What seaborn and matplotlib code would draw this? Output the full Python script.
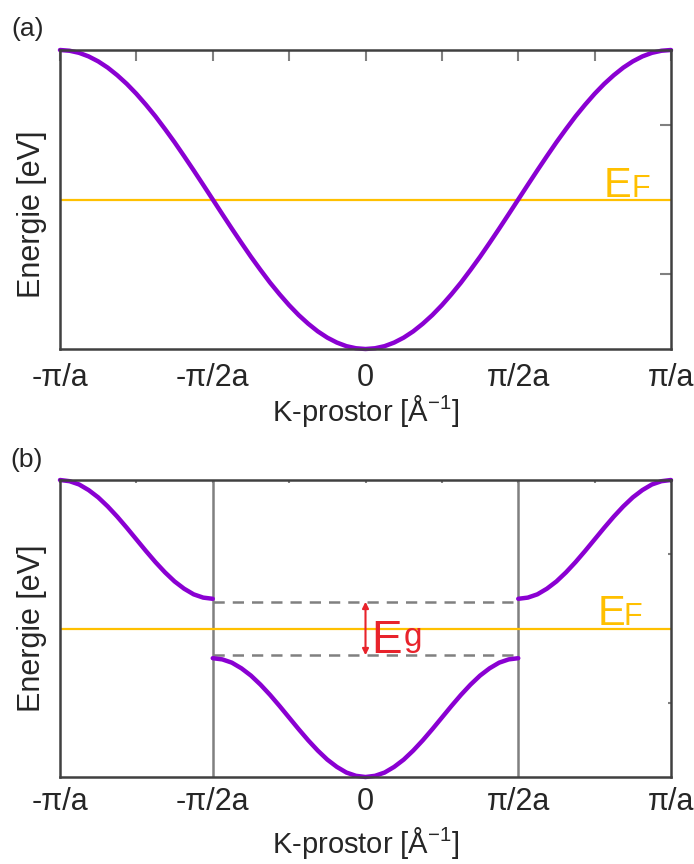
import numpy as np
import pandas as pd
import matplotlib
matplotlib.use("Agg")
import matplotlib.pyplot as plt
import seaborn as sns

sns.set_style("white")
plt.rcParams['font.family'] = ['Liberation Sans', 'DejaVu Sans']
plt.rcParams['mathtext.fontset'] = 'custom'
plt.rcParams['mathtext.rm'] = 'Liberation Sans'

# ---------------- data (k in units of pi/a, energy in arbitrary units) -------------
k_full = [-1.0, -0.96875, -0.9375, -0.90625, -0.875, -0.84375, -0.8125, -0.78125,
          -0.75, -0.71875, -0.6875, -0.65625, -0.625, -0.59375, -0.5625, -0.53125,
          -0.5, -0.46875, -0.4375, -0.40625, -0.375, -0.34375, -0.3125, -0.28125,
          -0.25, -0.21875, -0.1875, -0.15625, -0.125, -0.09375, -0.0625, -0.03125,
          0.0, 0.03125, 0.0625, 0.09375, 0.125, 0.15625, 0.1875, 0.21875,
          0.25, 0.28125, 0.3125, 0.34375, 0.375, 0.40625, 0.4375, 0.46875,
          0.5, 0.53125, 0.5625, 0.59375, 0.625, 0.65625, 0.6875, 0.71875,
          0.75, 0.78125, 0.8125, 0.84375, 0.875, 0.90625, 0.9375, 0.96875, 1.0]
E_a = [1.000, 0.995, 0.981, 0.957, 0.924, 0.882, 0.831, 0.773,
       0.707, 0.634, 0.556, 0.471, 0.383, 0.290, 0.195, 0.098,
       0.000, -0.098, -0.195, -0.290, -0.383, -0.471, -0.556, -0.634,
       -0.707, -0.773, -0.831, -0.882, -0.924, -0.957, -0.981, -0.995,
       -1.000, -0.995, -0.981, -0.957, -0.924, -0.882, -0.831, -0.773,
       -0.707, -0.634, -0.556, -0.471, -0.383, -0.290, -0.195, -0.098,
       0.000, 0.098, 0.195, 0.290, 0.383, 0.471, 0.556, 0.634,
       0.707, 0.773, 0.831, 0.882, 0.924, 0.957, 0.981, 0.995, 1.000]

k_b_left = [-1.0, -0.96875, -0.9375, -0.90625, -0.875, -0.84375, -0.8125, -0.78125,
            -0.75, -0.71875, -0.6875, -0.65625, -0.625, -0.59375, -0.5625, -0.53125, -0.5]
E_b_upper_left = [1.000, 0.992, 0.970, 0.932, 0.883, 0.822, 0.753, 0.678,
                  0.600, 0.522, 0.447, 0.378, 0.317, 0.268, 0.230, 0.208, 0.200]
k_b_right = [0.5, 0.53125, 0.5625, 0.59375, 0.625, 0.65625, 0.6875, 0.71875,
             0.75, 0.78125, 0.8125, 0.84375, 0.875, 0.90625, 0.9375, 0.96875, 1.0]
E_b_upper_right = [0.200, 0.208, 0.230, 0.268, 0.317, 0.378, 0.447, 0.522,
                   0.600, 0.678, 0.753, 0.822, 0.883, 0.932, 0.970, 0.992, 1.000]
k_b_mid = [-0.5, -0.46875, -0.4375, -0.40625, -0.375, -0.34375, -0.3125, -0.28125,
           -0.25, -0.21875, -0.1875, -0.15625, -0.125, -0.09375, -0.0625, -0.03125,
           0.0, 0.03125, 0.0625, 0.09375, 0.125, 0.15625, 0.1875, 0.21875,
           0.25, 0.28125, 0.3125, 0.34375, 0.375, 0.40625, 0.4375, 0.46875, 0.5]
E_b_lower = [-0.200, -0.208, -0.230, -0.268, -0.317, -0.378, -0.447, -0.522,
             -0.600, -0.678, -0.753, -0.822, -0.883, -0.932, -0.970, -0.992,
             -1.000, -0.992, -0.970, -0.932, -0.883, -0.822, -0.753, -0.678,
             -0.600, -0.522, -0.447, -0.378, -0.317, -0.268, -0.230, -0.208, -0.200]

E_F = 0.0
gap_edges = [0.18, -0.18]
zone_edges = [-0.5, 0.5]

x_ticks = [-1.0, -0.5, 0.0, 0.5, 1.0]
x_minor = [-0.75, -0.25, 0.25, 0.75]
x_labels = ['-π/a', '-π/2a', '0', 'π/2a', 'π/a']
y_ticks = [-0.5, 0.5]

# ---------------- styling -------------
PURPLE = '#8A00D2'
GOLD = '#FFC000'
GREY = '#808080'
RED = '#E8232B'
SPINE = '#404040'

fig = plt.figure(figsize=(6.94, 8.64), dpi=100)
ax1 = fig.add_axes([60/694, 1-349/864, 611/694, 299/864])
ax2 = fig.add_axes([60/694, 1-777/864, 611/694, 297/864])


def style_axis(ax, ticklen, pad, labelpad):
    ax.set_xlim(-1, 1)
    ax.set_ylim(-1, 1)
    ax.set_xticks(x_ticks)
    ax.set_xticks(x_minor, minor=True)
    ax.set_xticklabels(x_labels, fontsize=22)
    ax.set_yticks(y_ticks)
    ax.set_yticklabels([])
    ax.tick_params(which='both', direction='in', length=ticklen, width=1.5,
                   color=GREY, top=True, right=True, pad=pad)
    for s in ax.spines.values():
        s.set_color(SPINE)
        s.set_linewidth(1.8)
        s.set_zorder(5)
    ax.set_xlabel('K-prostor [Å$^{\\mathregular{-1}}$]', fontsize=21, labelpad=labelpad)
    ax.set_ylabel('Energie [eV]', fontsize=22)


# ---------------- panel (a) -------------
df_a = pd.DataFrame({'k': k_full, 'E': E_a})
ax1.axhline(E_F, color=GOLD, lw=1.6, zorder=2)
sns.lineplot(data=df_a, x='k', y='E', ax=ax1, color=PURPLE, lw=3.2,
             estimator=None, sort=False, clip_on=False, zorder=3)
style_axis(ax1, 8, 10, 0)
ax1.yaxis.set_label_coords(-0.022, 0.45)
ax1.text(0.78, 0.02, 'E', color=GOLD, fontsize=30, ha='left', va='baseline')
ax1.text(0.87, 0.02, 'F', color=GOLD, fontsize=22, ha='left', va='baseline')

# ---------------- panel (b) -------------
for z in zone_edges:
    ax2.axvline(z, color=GREY, lw=1.8, zorder=1)
ax2.axhline(E_F, color=GOLD, lw=1.6, zorder=2)
for g in gap_edges:
    ax2.plot(zone_edges, [g, g], color=GREY, lw=1.8, ls=(0, (4.5, 3.2)), zorder=2)

for kk, ee in [(k_b_left, E_b_upper_left), (k_b_right, E_b_upper_right),
               (k_b_mid, E_b_lower)]:
    sns.lineplot(x=kk, y=ee, ax=ax2, color=PURPLE, lw=3.2, estimator=None,
                 sort=False, clip_on=False, zorder=3)

style_axis(ax2, 2, 7, 6)
ax2.yaxis.set_label_coords(-0.022, 0.5)
ax2.annotate('', xy=(0, gap_edges[0]), xytext=(0, gap_edges[1]),
             arrowprops=dict(arrowstyle='<|-|>', color=RED, lw=1.5,
                             shrinkA=0, shrinkB=0, mutation_scale=9))
ax2.text(0.02, -0.165, 'E', color=RED, fontsize=33, ha='left', va='baseline')
ax2.text(0.125, -0.12, 'g', color=RED, fontsize=24, ha='left', va='baseline')
ax2.text(0.76, 0.024, 'E', color=GOLD, fontsize=30, ha='left', va='baseline')
ax2.text(0.845, 0.024, 'F', color=GOLD, fontsize=22, ha='left', va='baseline')

fig.text(11/694, 1-36/864, '(a)', fontsize=19, ha='left', va='baseline')
fig.text(10/694, 1-467/864, '(b)', fontsize=19, ha='left', va='baseline')

fig.savefig('out.png', dpi=100)
